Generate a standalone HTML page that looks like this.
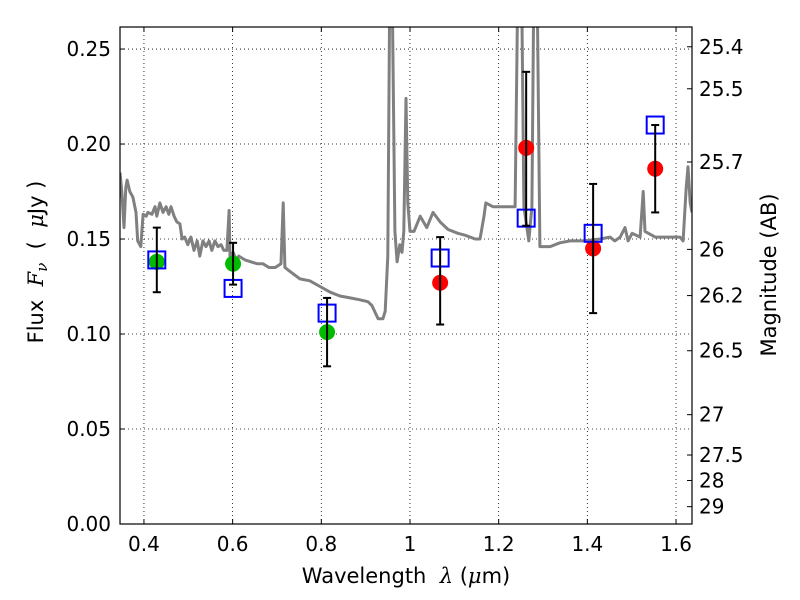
<!DOCTYPE html>
<html><head><meta charset="utf-8"><style>
html,body{margin:0;padding:0;background:#fff;width:800px;height:600px;overflow:hidden}
svg{display:block;font-family:"DejaVu Sans","Liberation Sans",sans-serif}
</style></head><body>
<svg id="chart" width="800" height="600"></svg>
<script>
const specLam=[0.346,0.350,0.355,0.359,0.362,0.368,0.375,0.382,0.386,0.393,0.398,0.405,0.409,0.418,0.425,0.429,0.436,0.443,0.450,0.456,0.461,0.468,0.474,0.481,0.486,0.492,0.499,0.506,0.513,0.520,0.526,0.533,0.540,0.547,0.553,0.560,0.567,0.574,0.580,0.587,0.592,0.594,0.601,0.608,0.614,0.628,0.641,0.655,0.668,0.682,0.696,0.709,0.714,0.718,0.729,0.752,0.774,0.797,0.820,0.842,0.865,0.887,0.905,0.914,0.928,0.939,0.944,0.950,0.955,0.959,0.966,0.971,0.977,0.982,0.986,0.991,0.995,1.000,1.009,1.023,1.038,1.052,1.068,1.086,1.108,1.124,1.147,1.158,1.167,1.171,1.187,1.214,1.237,1.244,1.251,1.257,1.268,1.275,1.280,1.286,1.293,1.316,1.338,1.361,1.390,1.429,1.451,1.462,1.474,1.485,1.492,1.501,1.519,1.526,1.530,1.553,1.587,1.609,1.616,1.623,1.627,1.632,1.636];
const specFlux=[0.185,0.175,0.156,0.177,0.181,0.175,0.172,0.164,0.149,0.146,0.163,0.162,0.164,0.163,0.167,0.162,0.169,0.164,0.167,0.163,0.167,0.162,0.159,0.158,0.150,0.151,0.147,0.151,0.144,0.149,0.141,0.149,0.146,0.149,0.144,0.149,0.146,0.147,0.144,0.144,0.165,0.141,0.143,0.139,0.141,0.139,0.138,0.137,0.137,0.135,0.135,0.137,0.169,0.135,0.133,0.129,0.128,0.125,0.122,0.120,0.119,0.118,0.117,0.115,0.108,0.108,0.112,0.141,0.300,0.300,0.154,0.138,0.147,0.143,0.154,0.224,0.169,0.154,0.154,0.162,0.156,0.164,0.159,0.155,0.153,0.152,0.150,0.150,0.162,0.169,0.167,0.167,0.167,0.300,0.300,0.167,0.149,0.167,0.300,0.300,0.146,0.146,0.148,0.149,0.149,0.150,0.151,0.149,0.151,0.156,0.149,0.153,0.151,0.175,0.154,0.151,0.151,0.151,0.149,0.177,0.188,0.169,0.164];
const ptLam=[0.429,0.601,0.813,1.068,1.262,1.413,1.553];
const ptFlux=[0.138,0.137,0.101,0.127,0.198,0.145,0.187];
const ptErrLo=[0.122,0.126,0.083,0.105,0.157,0.111,0.164];
const ptErrHi=[0.156,0.148,0.119,0.151,0.238,0.179,0.210];
const ptColor=['#00bb00','#00bb00','#00bb00','red','red','red','red'];
const modelFlux=[0.139,0.124,0.111,0.140,0.161,0.153,0.210];
const xTicks=[0.4,0.6,0.8,1.0,1.2,1.4,1.6];
const xTickLabels=['0.4','0.6','0.8','1','1.2','1.4','1.6'];
const yTicks=[0,0.05,0.10,0.15,0.20,0.25];
const yTickLabels=['0.00','0.05','0.10','0.15','0.20','0.25'];
const magTicks=[25.4,25.5,25.7,26,26.2,26.5,27,27.5,28,29];
const magTickLabels=['25.4','25.5','25.7','26','26.2','26.5','27','27.5','28','29'];

const L=120,R=692,T=27,B=524;
const X0=0.346,X1=1.636,Y0=0,Y1=0.2616;
const sx=v=>L+(v-X0)/(X1-X0)*(R-L);
const sy=v=>B-(v-Y0)/(Y1-Y0)*(B-T);
const NS='http://www.w3.org/2000/svg';
const svg=document.getElementById('chart');
function mk(tag,attrs,parent){const e=document.createElementNS(NS,tag);for(const k in attrs)e.setAttribute(k,attrs[k]);(parent||svg).appendChild(e);return e;}

const defs=mk('defs',{});const cp=mk('clipPath',{id:'clip'},defs);mk('rect',{x:L,y:T,width:R-L,height:B-T},cp);

const grid=mk('g',{});


xTicks.forEach(v=>{mk('line',{x1:sx(v),x2:sx(v),y1:T,y2:B,stroke:'#000','stroke-width':0.8,'stroke-dasharray':'1,3'},grid);});
yTicks.forEach(v=>{mk('line',{x1:L,x2:R,y1:sy(v),y2:sy(v),stroke:'#000','stroke-width':0.8,'stroke-dasharray':'1,3'},grid);});

let d='';specLam.forEach((l,i)=>{d+=(i?'L':'M')+sx(l).toFixed(1)+','+sy(specFlux[i]).toFixed(1);});
const sp=mk('path',{d:d,fill:'none',stroke:'#808080','stroke-width':3,'clip-path':'url(#clip)','stroke-linejoin':'round'});



ptLam.forEach((l,i)=>{
  const g=mk('g',{});
  
  
  const x=sx(l);
  mk('circle',{cx:x,cy:sy(ptFlux[i]),r:8,fill:ptColor[i]},g);
  mk('rect',{x:x-8.5,y:sy(modelFlux[i])-8.5,width:17,height:17,fill:'none',stroke:'#0000ff','stroke-width':2},g);
  mk('line',{x1:x,x2:x,y1:sy(ptErrLo[i]),y2:sy(ptErrHi[i]),stroke:'#000','stroke-width':2},g);
  mk('line',{x1:x-4,x2:x+4,y1:sy(ptErrLo[i]),y2:sy(ptErrLo[i]),stroke:'#000','stroke-width':2},g);
  mk('line',{x1:x-4,x2:x+4,y1:sy(ptErrHi[i]),y2:sy(ptErrHi[i]),stroke:'#000','stroke-width':2},g);
});

const fr=mk('rect',{x:L,y:T,width:R-L,height:B-T,fill:'none',stroke:'#000','stroke-width':1.2});



xTicks.forEach((v,i)=>{
  mk('line',{x1:sx(v),x2:sx(v),y1:B,y2:B-5,stroke:'#000'});
  mk('line',{x1:sx(v),x2:sx(v),y1:T,y2:T+5,stroke:'#000'});
  const t=mk('text',{x:sx(v),y:B+27,'text-anchor':'middle','font-size':20});
  t.textContent=xTickLabels[i];
  
  
});
yTicks.forEach((v,i)=>{
  mk('line',{x1:L,x2:L+5,y1:sy(v),y2:sy(v),stroke:'#000'});
  const t=mk('text',{x:L-9,y:sy(v)+7,'text-anchor':'end','font-size':20});
  t.textContent=yTickLabels[i];
  
  
});
magTicks.forEach((m,i)=>{
  const f=Math.pow(10,(23.9-m)/2.5);const y=sy(f);
  mk('line',{x1:R,x2:R-5,y1:y,y2:y,stroke:'#000'});
  const t=mk('text',{x:R+7,y:y+7,'text-anchor':'start','font-size':20});
  t.textContent=magTickLabels[i];
  
  
});
</script>
<div style="position:absolute;left:0;top:0;width:800px;height:600px;pointer-events:none">
<svg width="800" height="600" style="font-family:'DejaVu Sans','Liberation Sans',sans-serif">
<text x="406" y="583" text-anchor="middle" font-size="21">Wavelength&#160;&#160;<tspan font-family="'DejaVu Serif',serif" font-style="italic">λ</tspan> (<tspan font-family="'DejaVu Serif',serif" font-style="italic">μ</tspan>m)</text>
<text transform="translate(43,262) rotate(-90)" text-anchor="middle" font-size="21">Flux&#160;&#160;<tspan font-family="'DejaVu Serif',serif" font-style="italic">F<tspan font-size="15" dy="4">ν</tspan></tspan><tspan dy="-4">&#160;&#160;(&#160;&#160;</tspan><tspan font-family="'DejaVu Serif',serif" font-style="italic">μ</tspan>Jy )</text>
<text transform="translate(776,275) rotate(-90)" text-anchor="middle" font-size="21">Magnitude (AB)</text>
</svg></div>
</body></html>
